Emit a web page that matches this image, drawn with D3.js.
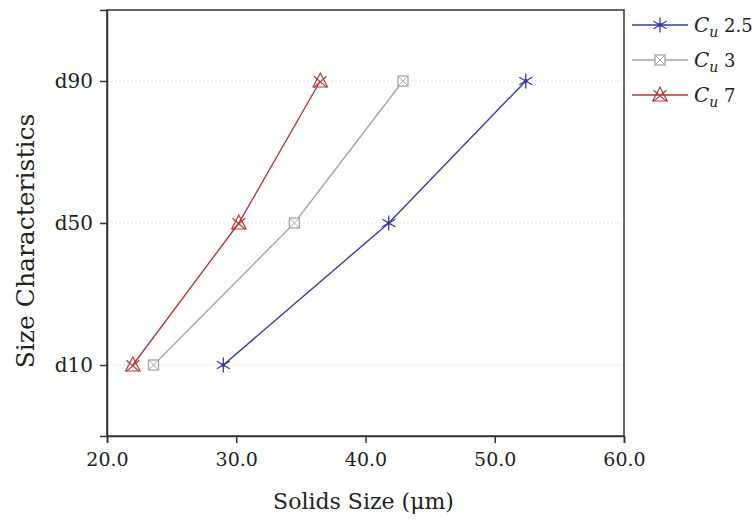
<!DOCTYPE html>
<html>
<head>
<meta charset="utf-8">
<script src="https://cdn.jsdelivr.net/npm/d3@7"></script>
<style>
  html, body { margin: 0; padding: 0; background: #fff; }
  svg { display: block; }
  text { font-family: "DejaVu Serif", "Liberation Serif", serif; fill: #222; }
</style>
</head>
<body>
<svg id="chart" width="755" height="526"></svg>
<script>
// Size characteristics (rows) and the solids size at each, per uniformity coefficient
const sizeLabels = ["d10", "d50", "d90"];
const xTicks = [20, 30, 40, 50, 60];
const cu25 = [29.0, 41.8, 52.4];
const cu3 = [23.6, 34.5, 42.9];
const cu7 = [22.0, 30.2, 36.5];
const seriesNames = ["2.5", "3", "7"];

const series = [
  { name: seriesNames[0], values: cu25, color: "#3a3aa8", symbol: "asterisk" },
  { name: seriesNames[1], values: cu3, color: "#a6a6a6", symbol: "squareX" },
  { name: seriesNames[2], values: cu7, color: "#b23a3a", symbol: "triangleX" }
];

const svg = d3.select("#chart");
const plot = { left: 107, right: 624, top: 10, bottom: 436 };

const x = d3.scaleLinear().domain([20, 60]).range([plot.left, plot.right]);
const y = d3.scalePoint().domain(sizeLabels).range([plot.bottom, plot.top]).padding(0.5);

// faint horizontal guides at each size characteristic
svg.append("g").selectAll("line").data(sizeLabels).join("line")
  .attr("x1", plot.left).attr("x2", plot.right)
  .attr("y1", d => y(d)).attr("y2", d => y(d))
  .attr("stroke", "#e4e4e4").attr("stroke-width", 1)
  .attr("stroke-dasharray", "2,2");

// frame
svg.append("rect")
  .attr("x", plot.left).attr("y", plot.top)
  .attr("width", plot.right - plot.left).attr("height", plot.bottom - plot.top)
  .attr("fill", "none").attr("stroke", "#333").attr("stroke-width", 1.5);

// axes
const xAxis = svg.append("g")
  .attr("transform", `translate(0,${plot.bottom})`)
  .call(d3.axisBottom(x).tickValues(xTicks).tickFormat(d3.format(".1f")).tickSize(7).tickPadding(10));
const yAxis = svg.append("g")
  .attr("transform", `translate(${plot.left},0)`)
  .call(d3.axisLeft(y).tickSize(7).tickPadding(7));
[xAxis, yAxis].forEach(g => {
  g.select(".domain").attr("stroke", "#333").attr("stroke-width", 1.5);
  g.selectAll(".tick line").attr("stroke", "#333").attr("stroke-width", 1.5);
  g.selectAll(".tick text").attr("font-family", "DejaVu Serif, serif").attr("fill", "#222");
});
xAxis.selectAll(".tick text").attr("font-size", 19);
yAxis.selectAll(".tick text").attr("font-size", 20);

// axis titles
svg.append("text")
  .attr("x", (plot.left + plot.right) / 2 - 2).attr("y", 509)
  .attr("text-anchor", "middle").attr("font-size", 22)
  .text("Solids Size (μm)");
svg.append("text")
  .attr("transform", `translate(34,${(plot.top + plot.bottom) / 2 + 18}) rotate(-90)`)
  .attr("text-anchor", "middle").attr("font-size", 25)
  .text("Size Characteristics");

// marker shapes
function drawSymbol(g, type, color) {
  if (type === "asterisk") {
    const r = 7.5;
    [90, 30, -30].forEach(a => {
      const rad = a * Math.PI / 180;
      g.append("line")
        .attr("x1", -r * Math.cos(rad)).attr("y1", -r * Math.sin(rad))
        .attr("x2", r * Math.cos(rad)).attr("y2", r * Math.sin(rad))
        .attr("stroke", color).attr("stroke-width", 1.3);
    });
    g.append("circle").attr("r", 2).attr("fill", color);
  } else if (type === "squareX") {
    const s = 5;
    g.append("rect").attr("x", -s).attr("y", -s).attr("width", 2 * s).attr("height", 2 * s)
      .attr("fill", "#fff").attr("stroke", color).attr("stroke-width", 1.3);
    g.append("path").attr("d", `M${-s},${-s}L${s},${s}M${s},${-s}L${-s},${s}`)
      .attr("stroke", color).attr("stroke-width", 1);
  } else if (type === "triangleX") {
    const s = 8;
    g.append("path").attr("d", `M0,${-s}L${s * 0.9},${s * 0.75}L${-s * 0.9},${s * 0.75}Z`)
      .attr("fill", "none").attr("stroke", color).attr("stroke-width", 1.2);
    g.append("path").attr("d", `M${-s * 0.8},${-s * 0.6}L${s * 0.8},${s * 0.8}M${s * 0.8},${-s * 0.6}L${-s * 0.8},${s * 0.8}`)
      .attr("stroke", color).attr("stroke-width", 1.2);
  }
}

const line = d3.line().x(d => x(d.v)).y(d => y(d.k));

series.forEach(s => {
  const pts = s.values.map((v, i) => ({ v, k: sizeLabels[i] }));
  svg.append("path").datum(pts)
    .attr("d", line).attr("fill", "none")
    .attr("stroke", s.color).attr("stroke-width", 1.4);
  pts.forEach(p => {
    const g = svg.append("g").attr("transform", `translate(${x(p.v)},${y(p.k)})`);
    drawSymbol(g, s.symbol, s.color);
  });
});

// legend
const legend = svg.append("g");
series.forEach((s, i) => {
  const ly = 25 + i * 35;
  const g = legend.append("g").attr("transform", `translate(0,${ly})`);
  g.append("line").attr("x1", 632).attr("x2", 688).attr("y1", 0).attr("y2", 0)
    .attr("stroke", s.color).attr("stroke-width", 1.4);
  drawSymbol(g.append("g").attr("transform", "translate(660,0)"), s.symbol, s.color);
  const t = g.append("text").attr("x", 694).attr("y", 7).attr("font-size", 20);
  t.append("tspan").attr("font-style", "italic").text("C");
  t.append("tspan").attr("font-style", "italic").attr("font-size", 14).attr("dy", 5).text("u");
  t.append("tspan").attr("dy", -5).attr("font-size", 18).text(" " + s.name);
});
</script>
</body>
</html>
